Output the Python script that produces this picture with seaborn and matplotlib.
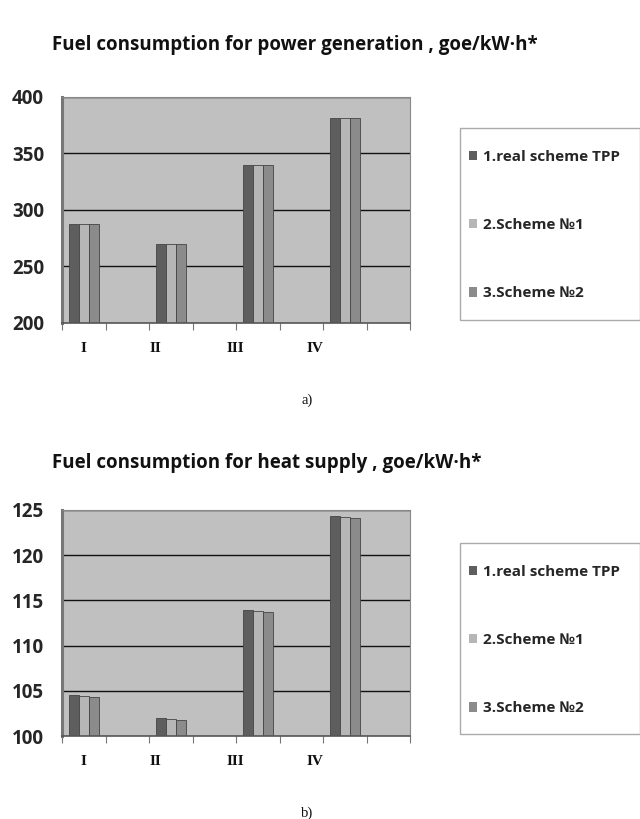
import matplotlib
matplotlib.use("Agg")
import matplotlib.pyplot as plt
import seaborn as sns
import pandas as pd
from matplotlib.patches import Rectangle, Patch

# ---- data ----
categories = ["I", "II", "III", "IV"]
series = ["1.real scheme TPP", "2.Scheme №1", "3.Scheme №2"]
power_real = [288, 270, 340, 381]
power_s1 = [288, 270, 340, 381]
power_s2 = [288, 270, 340, 381]
heat_real = [104.5, 101.95, 113.9, 124.3]
heat_s1 = [104.4, 101.85, 113.8, 124.2]
heat_s2 = [104.3, 101.8, 113.7, 124.1]
power_ticks = [200, 250, 300, 350, 400]
heat_ticks = [100, 105, 110, 115, 120, 125]

colors = ["#5e5e5e", "#b6b6b6", "#8b8b8b"]
slot_order = ["I", "_g1", "II", "_g2", "III", "_g3", "IV", "_g4"]
label_pos = [0.0, 1.64, 3.48, 5.32]

def make_df(a, b, c):
    rows = []
    for vals, s in zip([a, b, c], series):
        for cat, v in zip(categories, vals):
            rows.append({"cat": cat, "series": s, "value": v})
    return pd.DataFrame(rows)

sns.set_theme(style="white")
plt.rcParams["font.family"] = ["Open Sans", "DejaVu Sans"]

fig = plt.figure(figsize=(6.4, 8.19), dpi=100)

def draw(ax_rect, df, ticks, title, title_y, leg_rect, sub, sub_y, lab_y):
    ax = fig.add_axes(ax_rect)
    sns.barplot(data=df, x="cat", y="value", hue="series", order=slot_order,
                hue_order=series, palette=colors, width=0.7, ax=ax,
                edgecolor="#444444", linewidth=0.6, legend=False)
    ax.set_facecolor("#c0c0c0")
    ax.set_ylim(ticks[0], ticks[-1])
    ax.set_xlim(-0.5, 7.5)
    ax.set_yticks(ticks)
    ax.set_yticklabels([str(t) for t in ticks], fontsize=13.5, fontweight="bold")
    ax.set_xticks([i - 0.5 for i in range(9)])
    ax.set_xticklabels([""] * 9)
    ax.tick_params(axis="x", bottom=True, length=5, width=0.8, color="#777777")
    ax.tick_params(axis="y", left=False, pad=7)
    for t in ticks[1:]:
        ax.axhline(t, color="#111111", lw=1.0, zorder=0.5)
    ax.set_axisbelow(True)
    ax.set_xlabel("")
    ax.set_ylabel("")
    for sp in ["top", "right"]:
        ax.spines[sp].set_color("#888888")
        ax.spines[sp].set_linewidth(0.8)
    ax.spines["left"].set_color("#777777")
    ax.spines["left"].set_linewidth(2.2)
    ax.spines["bottom"].set_color("#555555")
    ax.spines["bottom"].set_linewidth(1.2)
    for cat, xp in zip(categories, label_pos):
        ax.text(xp, lab_y, cat, transform=ax.get_xaxis_transform(), ha="center",
                va="center", fontsize=11, fontweight="bold",
                family=["Liberation Serif"], color="#111111")
    fig.text(52 / 640, title_y, title, fontsize=13.5, fontweight="bold",
             ha="left", va="center", color="#111111")
    fig.text(307 / 640, sub_y, sub, fontsize=10.5, family=["Liberation Serif"],
             ha="center", va="center", color="#111111")
    # legend box
    lx, ly, lw_, lh = leg_rect
    fig.patches.append(Rectangle((lx, ly), lw_, lh, transform=fig.transFigure,
                                 facecolor="white", edgecolor="#aaaaaa", lw=1.0))
    handles = [Patch(facecolor=c, edgecolor="none") for c in colors]
    fig.legend(handles, series, loc="upper left",
               bbox_to_anchor=(lx - 0.008, ly + lh - 0.01),
               bbox_transform=fig.transFigure, frameon=False,
               prop={"family": ["Open Sans", "DejaVu Sans"], "weight": "bold", "size": 11},
               handlelength=0.55, handleheight=0.55, handletextpad=0.4,
               labelspacing=3.55)
    return ax

draw([62 / 640, 1 - 323 / 819, 348 / 640, 226 / 819], make_df(power_real, power_s1, power_s2),
     power_ticks, "Fuel consumption for power generation , goe/kW·h*", 1 - 45 / 819,
     (460 / 640, 1 - 320 / 819, 180 / 640, 192 / 819), "a)", 1 - 400 / 819, -0.115)
draw([62 / 640, 1 - 736 / 819, 348 / 640, 226 / 819], make_df(heat_real, heat_s1, heat_s2),
     heat_ticks, "Fuel consumption for heat supply , goe/kW·h*", 1 - 463 / 819,
     (460 / 640, 1 - 734 / 819, 180 / 640, 191 / 819), "b)", 1 - 813 / 819, -0.115)

fig.savefig("out.png", dpi=100, facecolor="white")
